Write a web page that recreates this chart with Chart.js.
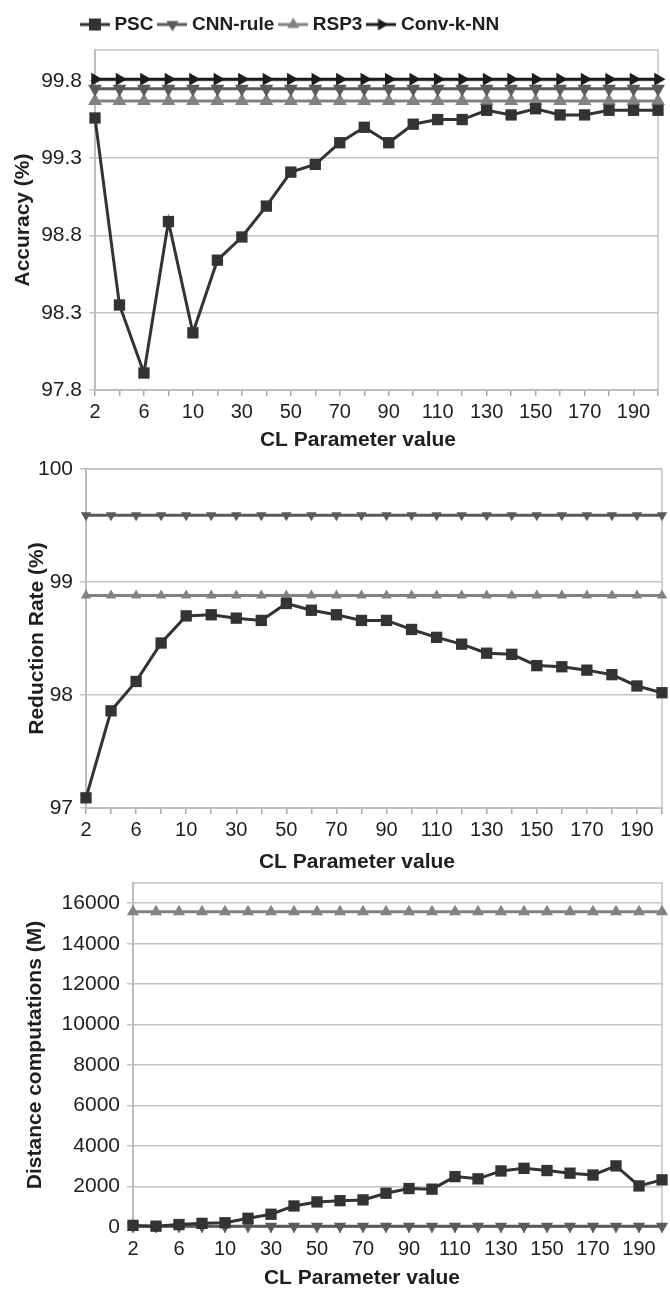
<!DOCTYPE html>
<html>
<head>
<meta charset="utf-8">
<script src="https://cdn.jsdelivr.net/npm/chart.js@4.4.1/dist/chart.umd.min.js"></script>
<style>
  html, body { margin: 0; padding: 0; background: #ffffff; }
  #page { position: relative; width: 670px; height: 1293px; overflow: hidden; background: #ffffff; }
  canvas { position: absolute; left: 0; }
</style>
</head>
<body>
<div id="page">
  <canvas id="legendCanvas" width="584" height="90" style="top:0px;width:584px;height:90px"></canvas>
  <canvas id="accCanvas" width="670" height="415" style="top:40px;width:670px;height:415px"></canvas>
  <canvas id="redCanvas" width="670" height="420" style="top:455px;width:670px;height:420px"></canvas>
  <canvas id="distCanvas" width="670" height="423" style="top:870px;width:670px;height:423px"></canvas>
</div>
<script>
// CL parameter values (x categories) and the ones that carry a label
const clValues = ['2','4','6','8','10','20','30','40','50','60','70','80','90','100','110','120','130','140','150','160','170','180','190','200'];
const xTickLabels = ['2','6','10','30','50','70','90','110','130','150','170','190'];

// Accuracy (%)
const accuracyPSC  = [99.56,98.35,97.91,98.89,98.17,98.64,98.79,98.99,99.21,99.26,99.40,99.50,99.40,99.52,99.55,99.55,99.61,99.58,99.62,99.58,99.58,99.61,99.61,99.61];
const accuracyCNN  = [99.75,99.75,99.75,99.75,99.75,99.75,99.75,99.75,99.75,99.75,99.75,99.75,99.75,99.75,99.75,99.75,99.75,99.75,99.75,99.75,99.75,99.75,99.75,99.75];
const accuracyRSP3 = [99.67,99.67,99.67,99.67,99.67,99.67,99.67,99.67,99.67,99.67,99.67,99.67,99.67,99.67,99.67,99.67,99.67,99.67,99.67,99.67,99.67,99.67,99.67,99.67];
const accuracyConv = [99.81,99.81,99.81,99.81,99.81,99.81,99.81,99.81,99.81,99.81,99.81,99.81,99.81,99.81,99.81,99.81,99.81,99.81,99.81,99.81,99.81,99.81,99.81,99.81];
const accuracyTicks = [97.8, 98.3, 98.8, 99.3, 99.8];

// Reduction rate (%)
const reductionPSC  = [97.09,97.86,98.12,98.46,98.70,98.71,98.68,98.66,98.81,98.75,98.71,98.66,98.66,98.58,98.51,98.45,98.37,98.36,98.26,98.25,98.22,98.18,98.08,98.02];
const reductionCNN  = [99.59,99.59,99.59,99.59,99.59,99.59,99.59,99.59,99.59,99.59,99.59,99.59,99.59,99.59,99.59,99.59,99.59,99.59,99.59,99.59,99.59,99.59,99.59,99.59];
const reductionRSP3 = [98.88,98.88,98.88,98.88,98.88,98.88,98.88,98.88,98.88,98.88,98.88,98.88,98.88,98.88,98.88,98.88,98.88,98.88,98.88,98.88,98.88,98.88,98.88,98.88];
const reductionTicks = [97, 98, 99, 100];

// Distance computations (M)
const distancePSC  = [80,40,120,180,210,430,630,1040,1240,1300,1340,1670,1900,1870,2490,2380,2770,2900,2790,2660,2570,3020,2030,2330];
const distanceCNN  = [40,40,40,40,40,40,40,40,40,40,40,40,40,40,40,40,40,40,40,40,40,40,40,40];
const distanceRSP3 = [15580,15580,15580,15580,15580,15580,15580,15580,15580,15580,15580,15580,15580,15580,15580,15580,15580,15580,15580,15580,15580,15580,15580,15580];
const distanceTicks = [0, 2000, 4000, 6000, 8000, 10000, 12000, 14000, 16000];

const FONT = '"Liberation Sans", Arial, sans-serif';
const TEXT = '#1e1e1e';
const GRID = '#c4c4c4';
const AXIS = '#ababab';

const seriesStyle = {
  PSC:         { color: '#333333', shape: 'rect',     rotation: 0 },
  'CNN-rule':  { color: '#5a5a5a', shape: 'triangle', rotation: 180 },
  RSP3:        { color: '#828282', shape: 'triangle', rotation: 0 },
  'Conv-k-NN': { color: '#1c1c1c', shape: 'triangle', rotation: 90 }
};

function dataset(name, values, radius) {
  const s = seriesStyle[name];
  return {
    label: name,
    data: values,
    borderColor: s.color,
    backgroundColor: s.color,
    borderWidth: 3,
    tension: 0,
    pointStyle: s.shape,
    rotation: s.rotation,
    pointRadius: radius,
    pointHoverRadius: radius,
    pointBackgroundColor: s.color,
    pointBorderColor: s.color,
    pointBorderWidth: 0,
    clip: false
  };
}

// light frame round the plotting area
const plotFrame = {
  id: 'plotFrame',
  beforeDatasetsDraw(chart) {
    const { ctx, chartArea: a } = chart;
    ctx.save();
    ctx.strokeStyle = GRID;
    ctx.lineWidth = 1.5;
    ctx.strokeRect(a.left, a.top, a.right - a.left, a.bottom - a.top);
    ctx.restore();
  }
};

// caption under the category axis, centred on the whole chart block
const xCaption = {
  id: 'xCaption',
  afterDraw(chart, args, opts) {
    const { ctx } = chart;
    const xs = chart.scales.x;
    ctx.save();
    ctx.font = 'bold 21px ' + FONT;
    ctx.fillStyle = TEXT;
    ctx.textAlign = 'center';
    ctx.textBaseline = 'middle';
    ctx.fillText(opts.text, opts.center, xs.top + opts.offset);
    ctx.restore();
  }
};

function panel(canvasId, datasets, cfg) {
  return new Chart(document.getElementById(canvasId), {
    type: 'line',
    data: { labels: clValues, datasets },
    plugins: [plotFrame, xCaption],
    options: {
      responsive: false,
      animation: false,
      events: [],
      layout: { padding: { top: cfg.padTop, right: cfg.padRight, bottom: 0, left: 0 } },
      plugins: {
        legend: { display: false },
        tooltip: { enabled: false },
        xCaption: { text: 'CL Parameter value', center: cfg.captionX, offset: cfg.captionDy }
      },
      scales: {
        x: {
          type: 'category',
          offset: false,
          afterFit(scale) {
            scale.height = cfg.xHeight;
            scale.paddingLeft = 0; scale.paddingRight = 0;
          },
          grid: { drawOnChartArea: false, drawTicks: true, tickLength: 6, color: AXIS, lineWidth: 1.5 },
          border: { color: AXIS, width: 2 },
          ticks: {
            autoSkip: false, maxRotation: 0, minRotation: 0, padding: 4,
            color: TEXT, font: { family: FONT, size: 20 },
            callback(value, index) {
              const lbl = clValues[index];
              return xTickLabels.includes(lbl) ? lbl : '';
            }
          }
        },
        y: {
          min: cfg.min, max: cfg.max,
          afterFit(scale) {
            scale.width = cfg.yWidth;
            scale.paddingTop = 0; scale.paddingBottom = 0;
          },
          afterBuildTicks(scale) { scale.ticks = cfg.ticks.map(v => ({ value: v })); },
          grid: { color: GRID, lineWidth: 1.5, drawTicks: true, tickLength: 6 },
          border: { color: AXIS, width: 2 },
          ticks: {
            padding: 7, color: TEXT, font: { family: FONT, size: 21 },
            callback(value) { return String(value); }
          },
          title: {
            display: true, text: cfg.yTitle, color: TEXT,
            font: { family: FONT, size: 21, weight: 'bold' },
            padding: { top: cfg.yTitlePad, bottom: 0 }
          }
        }
      }
    }
  });
}

panel('accCanvas', [
  dataset('PSC', accuracyPSC, 8),
  dataset('CNN-rule', accuracyCNN, 8),
  dataset('RSP3', accuracyRSP3, 8),
  dataset('Conv-k-NN', accuracyConv, 7.5)
], { padTop: 10, padRight: 12, xHeight: 65, yWidth: 95, min: 97.8, max: 100, ticks: accuracyTicks,
     yTitle: 'Accuracy (%)', yTitlePad: 11, captionX: 358, captionDy: 50 });

panel('redCanvas', [
  dataset('PSC', reductionPSC, 8),
  dataset('CNN-rule', reductionCNN, 6),
  dataset('RSP3', reductionRSP3, 6)
], { padTop: 14, padRight: 3, xHeight: 67, yWidth: 86, min: 97, max: 100, ticks: reductionTicks,
     yTitle: 'Reduction Rate (%)', yTitlePad: 25, captionX: 357, captionDy: 54 });

panel('distCanvas', [
  dataset('PSC', distancePSC, 8),
  dataset('CNN-rule', distanceCNN, 7),
  dataset('RSP3', distanceRSP3, 7)
], { padTop: 13, padRight: 2, xHeight: 66, yWidth: 133, min: 0, max: 17000, ticks: distanceTicks,
     yTitle: 'Distance computations (M)', yTitlePad: 23, captionX: 362, captionDy: 51 });

// legend swatches: a short line with the series marker on it
function swatch(name) {
  const s = seriesStyle[name];
  const c = document.createElement('canvas');
  c.width = 30; c.height = 18;
  const g = c.getContext('2d');
  g.strokeStyle = s.color; g.fillStyle = s.color; g.lineWidth = 3;
  g.beginPath(); g.moveTo(0, 9); g.lineTo(30, 9); g.stroke();
  g.save();
  g.translate(15, 9);
  g.rotate(s.rotation * Math.PI / 180);
  g.beginPath();
  if (s.shape === 'rect') {
    g.rect(-6, -6, 12, 12);
  } else {
    const r = 7;
    g.moveTo(0, -r);
    g.lineTo(r * Math.sin(2 * Math.PI / 3), -r * Math.cos(2 * Math.PI / 3));
    g.lineTo(r * Math.sin(4 * Math.PI / 3), -r * Math.cos(4 * Math.PI / 3));
    g.closePath();
  }
  g.fill();
  g.restore();
  return c;
}

const legendNames = ['PSC', 'CNN-rule', 'RSP3', 'Conv-k-NN'];
new Chart(document.getElementById('legendCanvas'), {
  type: 'line',
  data: { labels: [], datasets: legendNames.map(n => ({ label: n, data: [], borderColor: seriesStyle[n].color })) },
  options: {
    responsive: false,
    animation: false,
    events: [],
    layout: { padding: { top: 6 } },
    scales: { x: { display: false }, y: { display: false } },
    plugins: {
      tooltip: { enabled: false },
      legend: {
        display: true,
        position: 'top',
        labels: {
          usePointStyle: true,
          pointStyleWidth: 20,
          padding: 9,
          color: TEXT,
          font: { family: FONT, size: 19, weight: 'bold' },
          generateLabels(chart) {
            return chart.data.datasets.map((d, i) => ({
              text: d.label,
              pointStyle: swatch(d.label),
              fillStyle: d.borderColor,
              strokeStyle: d.borderColor,
              lineWidth: 0,
              fontColor: TEXT,
              hidden: false,
              datasetIndex: i
            }));
          }
        }
      }
    }
  }
});
</script>
</body>
</html>
